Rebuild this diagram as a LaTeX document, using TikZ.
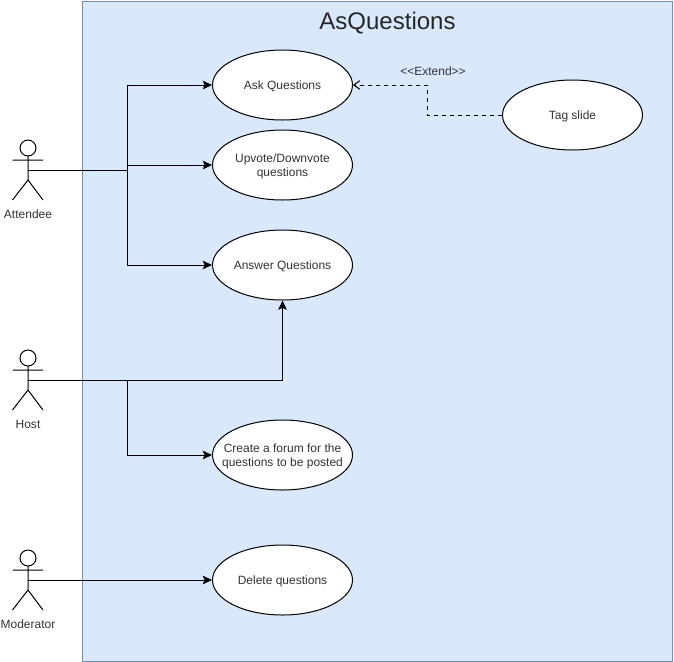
\documentclass[tikz,border=0pt]{standalone}
\usepackage{fontspec}
\setmainfont{Liberation Sans}
\usetikzlibrary{arrows.meta}
\usetikzlibrary{shapes.geometric}
\definecolor{panelfill}{HTML}{DAE8FC}
\definecolor{panelline}{HTML}{6C8EBF}

\begin{document}
\begin{tikzpicture}[x=0.75pt,y=-0.75pt,>={Stealth[length=7pt,width=6.5pt,inset=1.5pt]},line width=0.75pt,font=\fontsize{9}{10.5}\selectfont]
  \tikzstyle{usecase}=[draw, ellipse, fill=white, minimum width=105pt, minimum height=52.5pt, inner xsep=-12pt, inner ysep=0pt, align=center, text=black!80, text depth=-1pt]
  \tikzstyle{lbl}=[inner sep=0pt, text=black!80]
  \tikzstyle{figure}=[line width=0.75pt]
  \useasboundingbox (0,0) rectangle (674,661);
  \node[draw=panelline, fill=panelfill, minimum width=442.5pt, minimum height=495pt, inner sep=0pt, anchor=north west, line width=0.75pt] (system) at (82,0.5) {};
  \node[inner sep=0pt, font=\fontsize{18}{20}\selectfont, text=black!85] (title) at (387.5,23.5) {AsQuestions};

  \node[usecase] (ask) at (282.5,85) {Ask Questions};
  \node[usecase] (vote) at (282.5,165) {Upvote/Downvote\\questions};
  \node[usecase] (answer) at (282.5,265) {Answer Questions};
  \node[usecase] (forum) at (282.5,455) {Create a forum for the\\questions to be posted};
  \node[usecase] (delete) at (282.5,580) {Delete questions};
  \node[usecase] (tag) at (572.5,115) {Tag slide};

  % actors
  \foreach \y/\name/\txt in {170/attendee/Attendee, 380/host/Host, 580/moderator/Moderator}{
    \draw[figure] (28,\y-22) circle (6pt);
    \draw[figure] (28,\y-14) -- (28,\y+10) (12.5,\y-10) -- (43,\y-10) (12.5,\y+30) -- (28,\y+10) -- (43,\y+30);
    \node[lbl] (\name label) at (28,\y+44) {\txt};
  }
  \coordinate (attendee) at (28,170);
  \coordinate (host) at (28,380);
  \coordinate (moderator) at (28,580);
  \coordinate (attendeejoin) at (127.5,170);
  \coordinate (hostjoin) at (127.5,380);
  \coordinate (extendbend) at (427.5,85);

  \draw (attendee) -- (attendeejoin);
  \draw[->] (attendeejoin) |- (ask);
  \draw[->] (attendeejoin) |- (answer);
  \draw[->] (attendeejoin |- vote) -- (vote);
  \draw[->] (host) -| (answer);
  \draw[->] (hostjoin) |- (forum);
  \draw[->] (moderator) -- (delete);
  \draw[dashed, ->, >={Straight Barb[length=4.5pt,width=6.5pt]}] (tag) -| (extendbend) -- (ask);
  \node[lbl] (extend) at (433,71) {{<}{<}Extend{>}{>}};
\end{tikzpicture}
\end{document}
